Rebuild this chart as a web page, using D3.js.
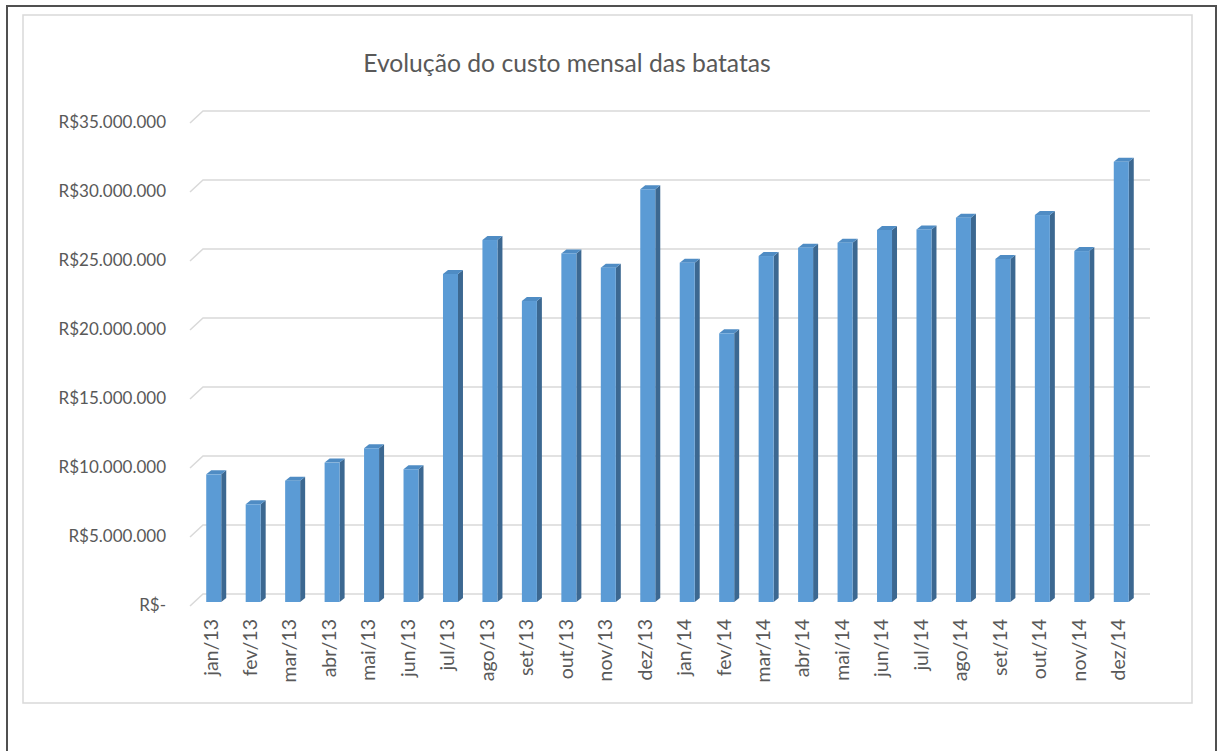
<!DOCTYPE html>
<html lang="pt">
<head>
  <meta charset="UTF-8">
  <title>Evolução do custo mensal das batatas</title>
  <script src="https://d3js.org/d3.v7.min.js"></script>
  <style>
    body { margin: 0; background: #fff; }
    svg { display: block; }
    .lbl { font-family: Lato, "Open Sans", sans-serif; fill: #595959; }
  </style>
</head>
<body>
  <svg width="1219" height="751"></svg>

  <script>
    // dados
    const months = ["jan/13","fev/13","mar/13","abr/13","mai/13","jun/13","jul/13","ago/13","set/13","out/13","nov/13","dez/13",
                    "jan/14","fev/14","mar/14","abr/14","mai/14","jun/14","jul/14","ago/14","set/14","out/14","nov/14","dez/14"];
    const costs = [9250000, 7080000, 8790000, 10100000, 11140000, 9620000, 23770000, 26230000, 21810000, 25260000, 24230000, 29910000,
                   24590000, 19470000, 25070000, 25670000, 26040000, 26960000, 27000000, 27850000, 24860000, 28040000, 25430000, 31900000];
    const yTicks = [0, 5000000, 10000000, 15000000, 20000000, 25000000, 30000000, 35000000];

    const data = months.map((m, i) => ({ month: m, value: costs[i] }));

    const svg = d3.select("svg");

    // moldura externa e área do gráfico
    svg.append("rect")
       .attr("x", 7).attr("y", 6).attr("width", 1209).attr("height", 760)
       .attr("fill", "none").attr("stroke", "#505050").attr("stroke-width", 2);
    svg.append("rect")
       .attr("x", 23).attr("y", 15).attr("width", 1169).attr("height", 688)
       .attr("fill", "#fff").attr("stroke", "#d9d9d9").attr("stroke-width", 1.5);

    // efeito 3D: parede ao fundo deslocada
    const wallDx = 13, wallDy = 12;
    const barW = 15, barDx = 5, barDy = 4, barInset = 4;

    const x = d3.scaleBand()
                .domain(months)
                .range([190, 1137]);

    const y = d3.scaleLinear()
                .domain([0, 35000000])
                .range([606, 123]);

    const br = d3.formatLocale({ decimal: ",", thousands: ".", grouping: [3], currency: ["R$", ""] });
    const fmt = v => v === 0 ? "R$-" : br.format("$,")(v);

    // linhas de grade
    svg.append("g")
       .selectAll("path")
       .data(yTicks)
       .enter().append("path")
       .attr("d", v => `M${x.range()[0]},${y(v)} L${x.range()[0] + wallDx},${y(v) - wallDy} L${x.range()[1] + wallDx},${y(v) - wallDy}`)
       .attr("fill", "none")
       .attr("stroke", "#d9d9d9")
       .attr("stroke-width", 1.5);

    // eixo Y
    const yAxis = d3.axisLeft(y).tickValues(yTicks).tickFormat(fmt).tickSize(0).tickPadding(0);
    const gy = svg.append("g")
       .attr("transform", "translate(166, -1)")
       .call(yAxis);
    gy.select(".domain").remove();
    gy.selectAll("text")
      .attr("class", "lbl")
      .style("font-size", "17px");

    // barras
    const bars = svg.append("g")
       .selectAll("g")
       .data(data)
       .enter().append("g");

    const bx = d => x(d.month) + x.bandwidth() / 2 - barW / 2 + barInset;
    const by = d => y(d.value) - barInset;
    const b0 = y(0) - barInset;

    // lateral
    bars.append("path")
        .attr("d", d => `M${bx(d) + barW},${by(d)} L${bx(d) + barW + barDx},${by(d) - barDy} L${bx(d) + barW + barDx},${b0 - barDy} L${bx(d) + barW},${b0} Z`)
        .attr("fill", "#3c6891");
    // topo
    bars.append("path")
        .attr("d", d => `M${bx(d)},${by(d)} L${bx(d) + barDx},${by(d) - barDy} L${bx(d) + barW + barDx},${by(d) - barDy} L${bx(d) + barW},${by(d)} Z`)
        .attr("fill", "#4f8cc4");
    // frente
    bars.append("rect")
        .attr("x", bx)
        .attr("y", by)
        .attr("width", barW)
        .attr("height", d => b0 - by(d))
        .attr("fill", "#5b9bd5");

    // rótulos do eixo X
    svg.append("g")
       .selectAll("text")
       .data(months)
       .enter().append("text")
       .attr("class", "lbl")
       .attr("transform", m => `translate(${x(m) + x.bandwidth() / 2 + 1}, 619) rotate(-90)`)
       .attr("dy", "0.35em")
       .style("text-anchor", "end")
       .style("font-size", "19.5px")
       .text(m => m);

    // título
    svg.append("text")
       .attr("class", "lbl")
       .attr("x", 567)
       .attr("y", 72)
       .style("text-anchor", "middle")
       .style("font-size", "24.7px")
       .text("Evolução do custo mensal das batatas");
  </script>
</body>
</html>
